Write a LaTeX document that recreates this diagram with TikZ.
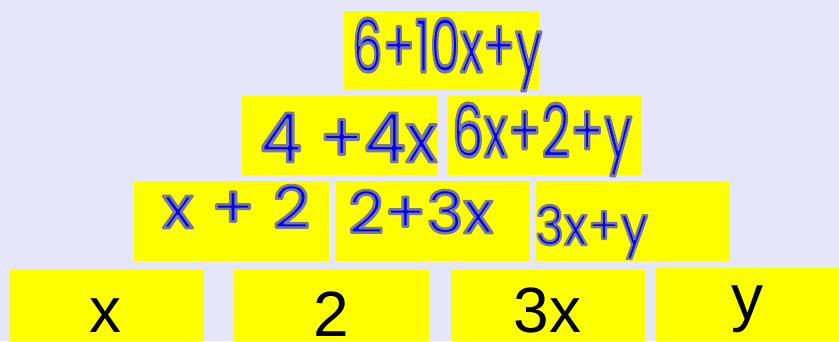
\documentclass[tikz,border=0pt]{standalone}
\usepackage{fontspec}
\setmainfont{Liberation Sans}
\newfontfamily\handfont{Poppins}
\definecolor{bg}{RGB}{230,230,250}
\definecolor{cellyellow}{RGB}{255,255,0}
\definecolor{pen}{RGB}{0,0,255}
\newcommand{\hw}[3]{\resizebox{#1}{#2}{\color{pen}\special{pdf:literal 0.47 0.47 0.6 RG 2.6 w 1 J 1 j 2 Tr}\fontsize{60}{60}\handfont #3\special{pdf:literal 0 Tr}}}
\tikzset{
  cell/.style={fill=cellyellow, draw=none, inner sep=0pt, anchor=north west},
  hand/.style={inner sep=0pt, anchor=base west},
  plain/.style={inner sep=0pt, anchor=base, font=\fontsize{64}{64}\selectfont}
}
\begin{document}
\begin{tikzpicture}[x=1pt,y=-1pt]
\fill[bg] (0,0) rectangle (839,341);
\useasboundingbox (0,0) rectangle (839,341);
% boxes
\node[cell, minimum width=195pt, minimum height=79.3pt] (top) at (343.7,10.7) {};
\node[cell, minimum width=195pt, minimum height=79pt] (ra) at (241.7,96) {};
\node[cell, minimum width=194.4pt, minimum height=79pt] (rb) at (447.3,96) {};
\node[cell, minimum width=194.6pt, minimum height=79.3pt] (sa) at (133.7,181) {};
\node[cell, minimum width=194.7pt, minimum height=79.3pt] (sb) at (335.3,181) {};
\node[cell, minimum width=194.7pt, minimum height=79.3pt] (sc) at (535.3,181) {};
\node[cell, minimum width=195pt, minimum height=71.7pt] (ba) at (8.3,269.3) {};
\node[cell, minimum width=194.6pt, minimum height=71.7pt] (bb) at (233.7,269.3) {};
\node[cell, minimum width=194.7pt, minimum height=71.7pt] (bc) at (450.3,269.3) {};
\node[cell, minimum width=183.3pt, minimum height=73.7pt] (bd) at (655.7,267.3) {};
% handwritten sums
\node[hand] (ttop) at (352,72) {\hw{190pt}{54pt}{6+10x+y}};
\node[hand] (tra) at (260,162) {\hw{177pt}{49pt}{4 +4x}};
\node[hand] (trb) at (452,157) {\hw{180pt}{54pt}{6x+2+y}};
\node[hand] (tsa) at (162,228) {\hw{148pt}{43pt}{x + 2}};
\node[hand] (tsb) at (348,233) {\hw{145pt}{43pt}{2+3x}};
\node[hand] (tsc) at (535,245) {\hw{113pt}{40pt}{3x+y}};
% base values
\node[plain] (tba) at (105.8,332) {x};
\node[plain] (tbb) at (331,336) {2};
\node[plain] (tbc) at (547.6,332) {3x};
\node[plain] (tbd) at (747,319) {y};
\end{tikzpicture}
\end{document}
